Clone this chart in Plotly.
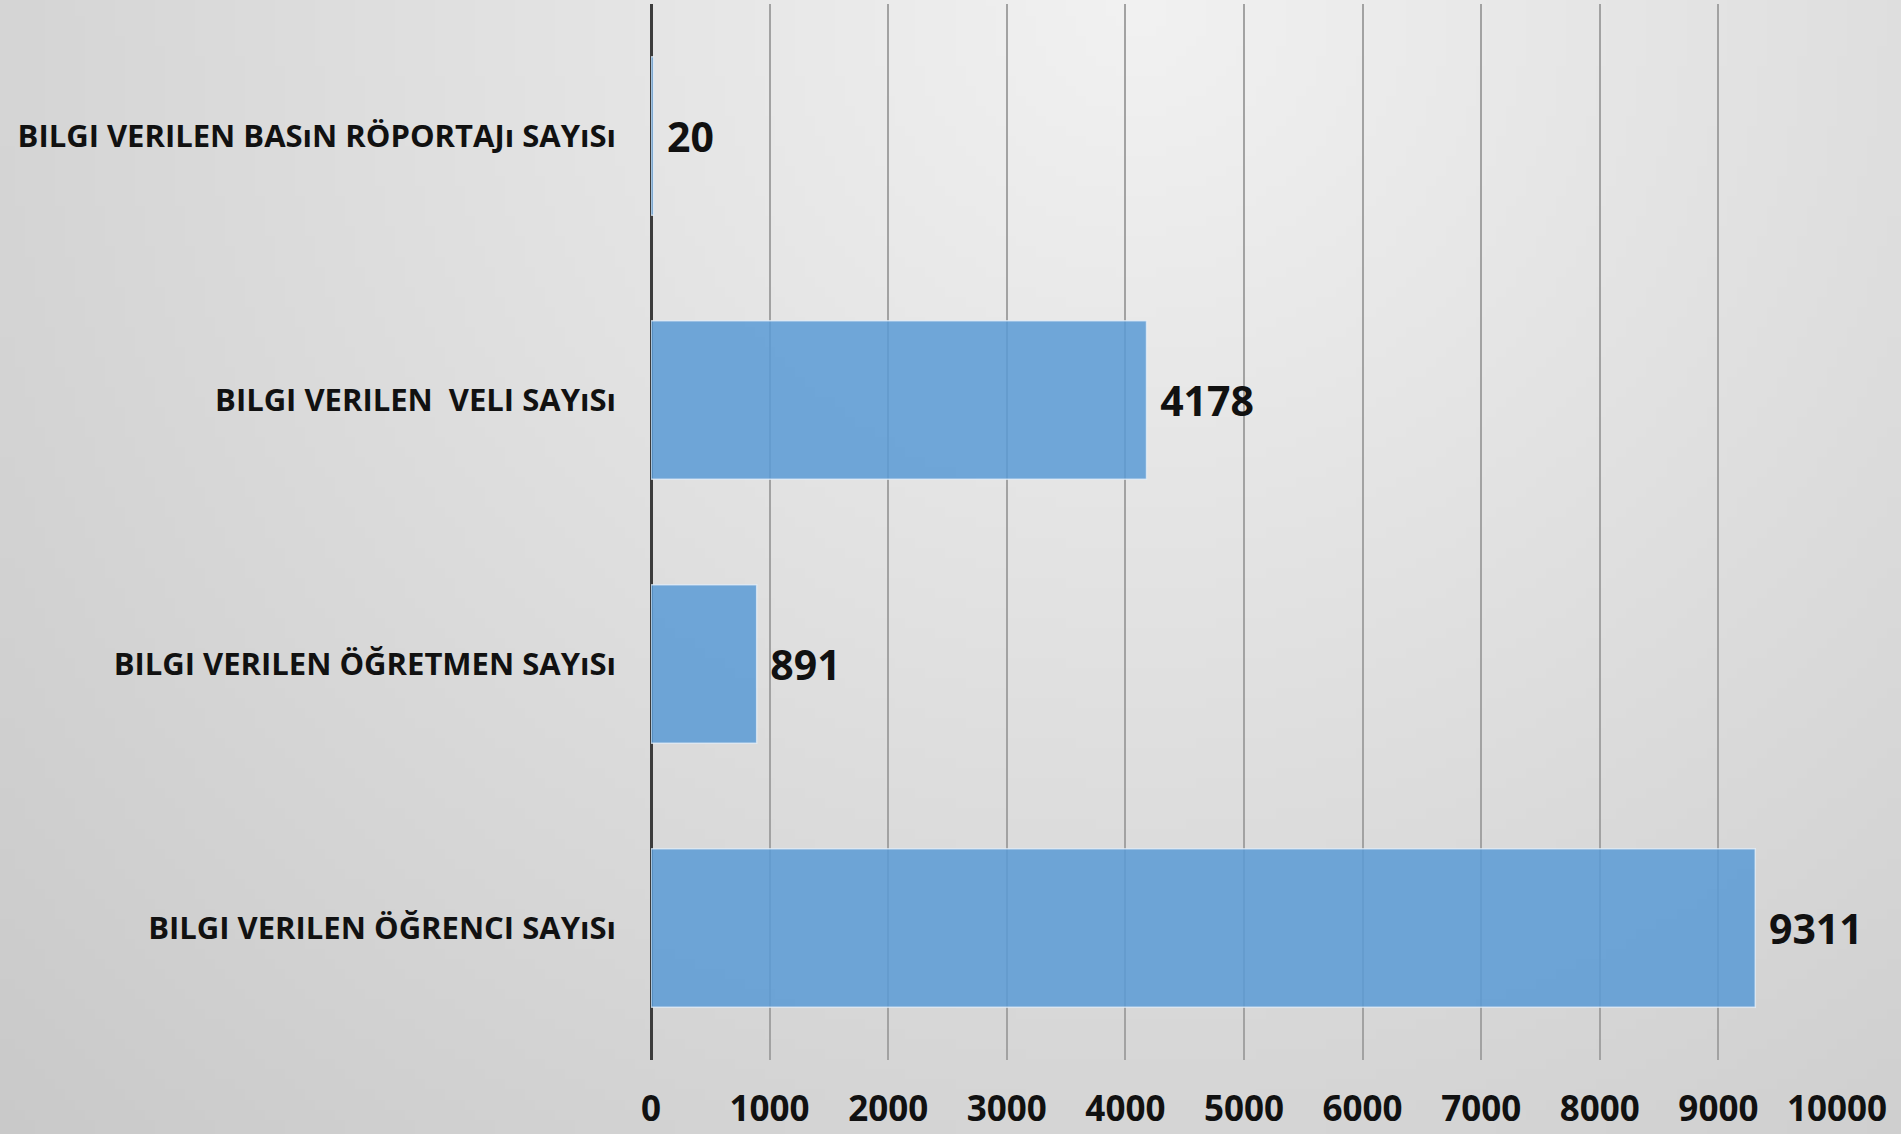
import base64
import math
import struct
import zlib

import plotly.graph_objects as go

# veriler (alttan üste)
kategoriler = [
    "BILGI VERILEN ÖĞRENCI SAYıSı",
    "BILGI VERILEN ÖĞRETMEN SAYıSı",
    "BILGI VERILEN  VELI SAYıSı",
    "BILGI VERILEN BASıN RÖPORTAJı SAYıSı",
]
degerler = [9311, 891, 4178, 20]
x_ticks = [0, 1000, 2000, 3000, 4000, 5000, 6000, 7000, 8000, 9000, 10000]
x_tick_text = [str(t) for t in x_ticks]

W, H = 1901, 1134
M_L, M_R, M_T, M_B = 651, 64, 4, 74


def gradient_png(w=190, h=113):
    # açık gri radyal arka plan (üst-orta açık, sol-alt koyu)
    rows = b""
    for j in range(h):
        row = bytearray([0])
        for i in range(w):
            dx = (i / (w - 1) - 0.6) * W / H
            dy = j / (h - 1)
            v = 241.4 - 28.5 * math.hypot(dx, dy)
            row.append(max(0, min(255, int(round(v)))))
        rows += bytes(row)

    def chunk(tag, data):
        c = struct.pack(">I", len(data)) + tag + data
        return c + struct.pack(">I", zlib.crc32(tag + data) & 0xFFFFFFFF)

    png = b"\x89PNG\r\n\x1a\n"
    png += chunk(b"IHDR", struct.pack(">IIBBBBB", w, h, 8, 0, 0, 0, 0))
    png += chunk(b"IDAT", zlib.compress(rows, 9))
    png += chunk(b"IEND", b"")
    return "data:image/png;base64," + base64.b64encode(png).decode()


fig = go.Figure()

fig.add_trace(go.Bar(
    y=kategoriler,
    x=degerler,
    orientation="h",
    marker=dict(color="rgba(91,155,213,0.86)",
                line=dict(color="rgba(235,242,250,0.7)", width=1.5)),
    text=[f" {v}" for v in degerler],
    texttemplate="%{text}",
    textposition="outside",
    textfont=dict(family="Open Sans", size=41, color="#111111", weight="bold"),
    cliponaxis=False,
    hoverinfo="skip",
))

pw = W - M_L - M_R
ph = H - M_T - M_B
fig.add_layout_image(
    source=gradient_png(),
    xref="paper", yref="paper",
    x=-M_L / pw, y=1 + M_T / ph,
    sizex=W / pw, sizey=H / ph,
    sizing="stretch", layer="below", xanchor="left", yanchor="top",
)

fig.update_layout(
    width=W,
    height=H,
    margin=dict(l=M_L, r=M_R, t=M_T, b=M_B, autoexpand=False),
    paper_bgcolor="#d6d6d6",
    plot_bgcolor="rgba(0,0,0,0)",
    bargap=0.4,
    showlegend=False,
    font=dict(family="Open Sans", color="#111111"),
)

fig.update_xaxes(
    range=[0, 10000],
    tickvals=x_ticks,
    ticktext=x_tick_text,
    showgrid=True,
    gridcolor="#a2a2a2",
    gridwidth=1.5,
    zeroline=True,
    zerolinecolor="#3c3c3c",
    zerolinewidth=3,
    showline=False,
    ticks="",
    automargin=False,
    ticklabelstandoff=25,
    tickfont=dict(family="Open Sans", size=35, color="#111111", weight="bold"),
)

fig.update_yaxes(
    showgrid=False,
    showline=False,
    ticks="",
    automargin=False,
    ticklabelstandoff=34,
    tickfont=dict(family="Open Sans", size=31, color="#111111", weight="bold"),
)

fig.write_html(
    "out.html",
    config={"displayModeBar": False},
    post_script="document.body.style.margin='0';"
                "document.body.style.overflow='hidden';"
                "document.body.style.background='#c9c9c9';",
)
